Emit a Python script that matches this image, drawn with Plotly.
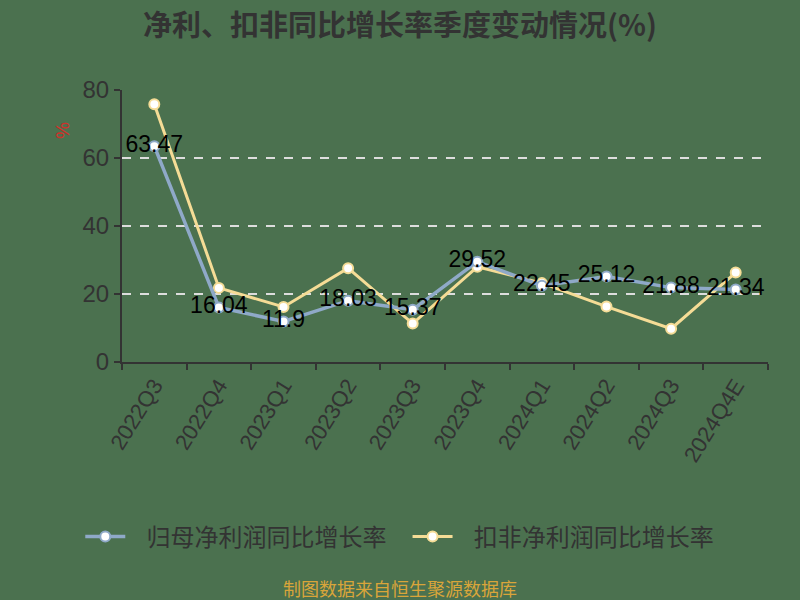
import plotly.graph_objects as go

categories = ["2022Q3", "2022Q4", "2023Q1", "2023Q2", "2023Q3", "2023Q4",
              "2024Q1", "2024Q2", "2024Q3", "2024Q4E"]
parent_np_growth = [63.47, 16.04, 11.9, 18.03, 15.37, 29.52, 22.45, 25.12, 21.88, 21.34]
deducted_np_growth = [75.8, 21.8, 16.2, 27.6, 11.3, 28.0, 23.2, 16.3, 9.8, 26.3]
y_ticks = [0, 20, 40, 60, 80]
series_names = ["归母净利润同比增长率", "扣非净利润同比增长率"]

bg = "#4b714f"
blue = "#8fa9c8"
yellow = "#f5dc96"
cjk = "Noto Sans CJK SC"
pad = "\u00a0\u00a0\u00a0"

fig = go.Figure()
fig.add_trace(go.Scatter(
    x=categories, y=deducted_np_growth, name=pad + series_names[1],
    mode="lines+markers",
    line=dict(color=yellow, width=3),
    marker=dict(size=10, color="white", line=dict(color=yellow, width=2)),
))
fig.add_trace(go.Scatter(
    x=categories, y=parent_np_growth, name=pad + series_names[0] + pad,
    mode="lines+markers+text",
    line=dict(color=blue, width=3.5),
    marker=dict(size=10, color="white", line=dict(color=blue, width=2)),
    text=[str(v) for v in parent_np_growth],
    textposition="middle center",
    textfont=dict(size=23, color="black", family="Liberation Sans"),
))

fig.update_layout(
    width=800, height=600,
    paper_bgcolor=bg, plot_bgcolor=bg,
    margin=dict(l=122, r=32, t=90, b=238),
    title=dict(text="<b>净利、扣非同比增长率季度变动情况(%)</b>",
               x=0.5, xanchor="center", y=0.957, yanchor="middle",
               font=dict(size=29, color="#333333", family=cjk)),
    showlegend=True,
    legend=dict(orientation="h", x=0.43, xanchor="center", y=-0.643, yanchor="middle",
                font=dict(size=24, color="#333333", family=cjk),
                traceorder="reversed", bgcolor="rgba(0,0,0,0)",
                itemwidth=40),
    xaxis=dict(
        type="category", showgrid=False, showline=True, linecolor="#333333", linewidth=2,
        ticks="outside", tickson="boundaries", ticklen=6, tickcolor="#333333", tickwidth=2,
        tickangle=-58, tickfont=dict(size=22, color="#333333", family="Liberation Sans"),
        range=[-0.5, 9.5],
    ),
    yaxis=dict(
        range=[0, 80], tickvals=y_ticks, showgrid=True, gridcolor="#dddddd",
        griddash="dash", gridwidth=1.5, zeroline=False,
        showline=True, linecolor="#333333", linewidth=2,
        ticks="outside", ticklen=6, tickcolor="#333333", tickwidth=2,
        tickfont=dict(size=24, color="#333333", family="Liberation Sans"),
    ),
    annotations=[
        dict(text="%", xref="paper", yref="paper", x=-0.093, y=0.85,
             xanchor="center", yanchor="middle",
             showarrow=False, textangle=90,
             font=dict(size=19, color="#d0302a", family="Liberation Sans")),
        dict(text="制图数据来自恒生聚源数据库", xref="paper", yref="paper",
             x=0.430, y=-0.831, xanchor="center", yanchor="middle", showarrow=False,
             font=dict(size=18, color="#d9a53a", family=cjk)),
    ],
)

fig.write_html(
    "out.html",
    config={"displayModeBar": False},
    post_script="document.body.style.margin='0';document.body.style.backgroundColor='" + bg + "';",
)
